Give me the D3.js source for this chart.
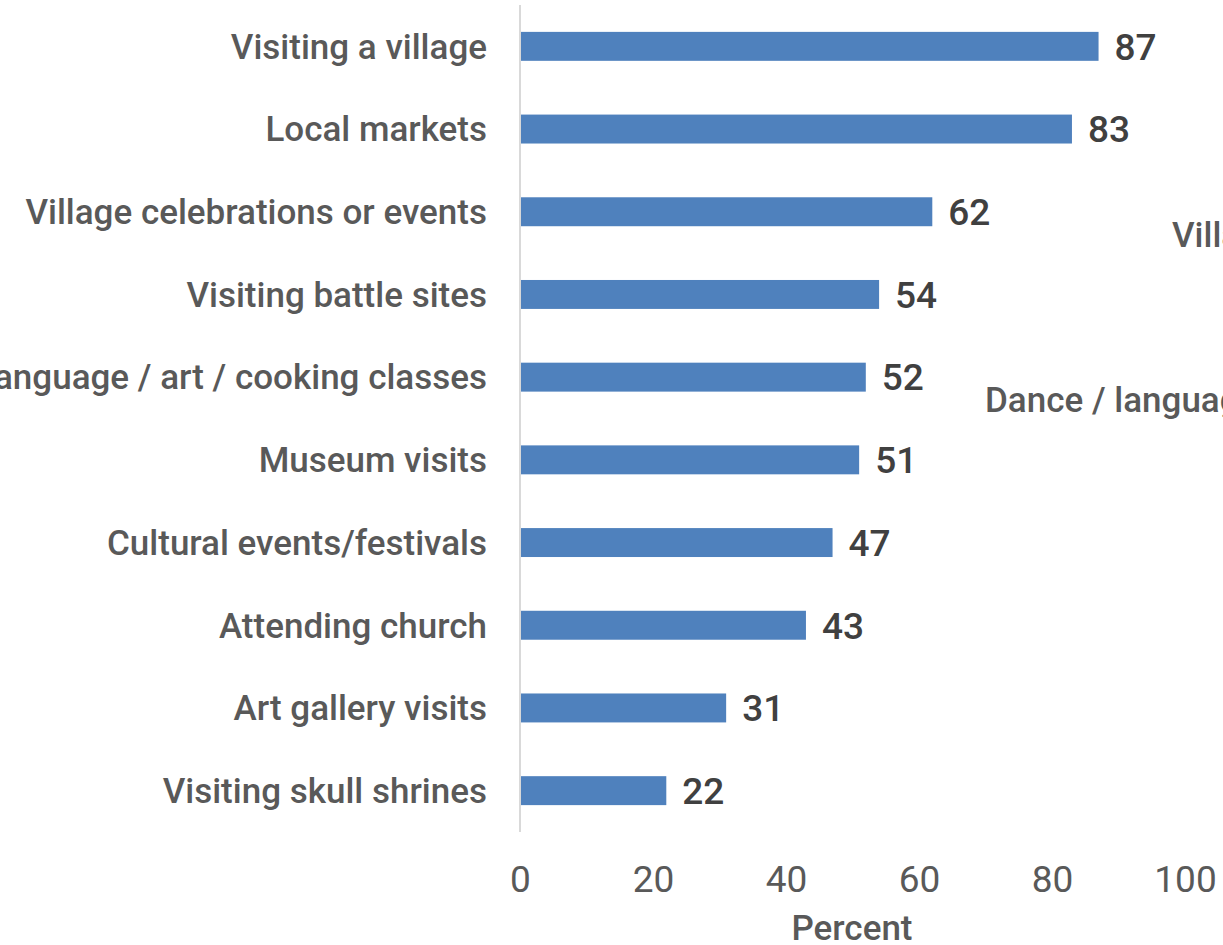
<!DOCTYPE html>
<html><head><meta charset="utf-8">
<script src="https://cdn.jsdelivr.net/npm/d3@7"></script>
<style>html,body{margin:0;padding:0;background:#fff;overflow:hidden}</style>
</head><body>
<svg id="chart" width="1223" height="945"></svg>
<script>
const categories = ["Visiting a village","Local markets","Village celebrations or events","Visiting battle sites","Dance / language / art / cooking classes","Museum visits","Cultural events/festivals","Attending church","Art gallery visits","Visiting skull shrines"];
const values = [87,83,62,54,52,51,47,43,31,22];
const xTicks = [0,20,40,60,80,100];
const xTitle = "Percent";
const ghostLabels = ["Village celebrations or events","Dance / language / art / cooking classes"];

const FONT = "Roboto, 'Open Sans', sans-serif";
const svg = d3.select("#chart");
const x = d3.scaleLinear().domain([0,100]).range([520,1185]);
const y = d3.scaleBand().domain(categories).range([5,832]).paddingInner(0.65).paddingOuter(0.325);

// ghost labels (cut-off text at right)
svg.selectAll("text.ghost").data(ghostLabels).join("text")
  .attr("class","ghost")
  .attr("x",(d,i)=> i===0 ? 1172 : 985)
  .attr("y",(d,i)=> (y(categories[i===0?2:4]) + y.bandwidth()/2) + 23)
  .attr("dy","0.35em")
  .attr("fill","#595959").attr("font-family",FONT).attr("font-size",35).attr("font-weight",500)
  .text(d=>d);

// bars
svg.selectAll("rect.bar").data(values).join("rect")
  .attr("class","bar")
  .attr("x",x(0)).attr("y",(d,i)=>y(categories[i]))
  .attr("width",d=>x(d)-x(0)).attr("height",y.bandwidth())
  .attr("fill","#4f81bd");

// axis line
svg.append("line").attr("x1",x(0)).attr("x2",x(0)).attr("y1",5).attr("y2",832)
  .attr("stroke","#d9d9d9").attr("stroke-width",2);

// category labels
svg.selectAll("text.cat").data(categories).join("text")
  .attr("class","cat")
  .attr("x",487).attr("y",d=>y(d)+y.bandwidth()/2).attr("dy","0.35em")
  .attr("text-anchor","end").attr("fill","#595959").attr("font-weight",500)
  .attr("font-family",FONT).attr("font-size",35).text(d=>d);

// value labels
svg.selectAll("text.val").data(values).join("text")
  .attr("class","val")
  .attr("x",d=>x(d)+16).attr("y",(d,i)=>y(categories[i])+y.bandwidth()/2).attr("dy","0.36em")
  .attr("fill","#404040").attr("font-family",FONT).attr("font-size",37).attr("font-weight",500)
  .text(d=>d);

// x axis tick labels
const xAxis = d3.axisBottom(x).tickValues(xTicks).tickSize(0).tickPadding(0).tickFormat(d3.format("d"));
const gx = svg.append("g").attr("transform","translate(0,866)").call(xAxis);
gx.select(".domain").remove();
gx.selectAll("text").attr("fill","#595959").attr("font-family",FONT).attr("font-size",37);

svg.append("text").attr("x",852).attr("y",940).attr("text-anchor","middle")
  .attr("fill","#595959").attr("font-family",FONT).attr("font-size",35).attr("font-weight",500).text(xTitle);
</script>
</body></html>
